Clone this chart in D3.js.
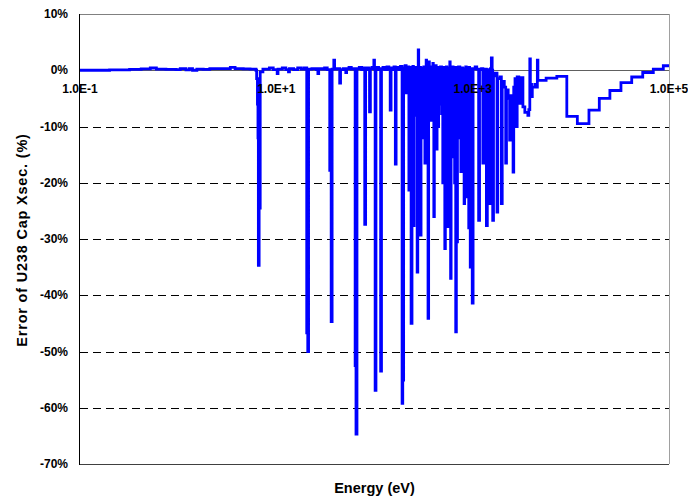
<!DOCTYPE html>
<html>
<head>
<meta charset="utf-8">
<script src="https://cdn.jsdelivr.net/npm/d3@7"></script>
<style>
  body { margin: 0; background: #fff; }
  text { font-family: Arial, "Liberation Sans", sans-serif; font-weight: bold; fill: #000; }
</style>
</head>
<body>
<div id="chart"></div>
<script>
// error of U238 capture xsec, step values [energy eV, error %]
const thermalRange = [
  [0.1, 0], [0.2, 0.05], [0.32, 0.15], [0.42, 0.25], [0.52, 0.4], [0.6, 0.2],
  [0.75, 0.15], [0.95, 0.1], [1.05, 0.3], [1.2, 0.05], [1.3, 0.3], [1.4, 0],
  [1.55, 0.2], [1.8, 0.15], [2.1, 0.3], [3.2, 0.3], [3.4, 0.5], [3.8, 0.3],
  [4.6, 0.25], [5.4, 0.2], [6.2, 0.0]
];

const resolvedLow = [
  [6.3, -1.5], [6.42, -6], [6.5, -12], [6.56, -34.7], [6.68, -24.5], [6.85, -0.3],
  [7.3, 0.2], [8.5, 0.4], [9.3, 0.1], [10.2, -0.6], [10.4, 0.2], [11.5, 0.4],
  [12.5, 0.1], [13.3, -0.3], [13.6, 0.3], [15, 0.1], [16.5, 0.4], [18, 0.2], [19.3, 0.4],
  [20.4, -46.7], [20.9, -50], [21.3, 0.2], [23, 0.3], [25.5, 0.1], [26.5, -0.6],
  [27, 0.3], [29, 0.2], [31, 0.4], [33, 0.1],
  [35.0, -17.8], [36.2, -44.7], [37.0, 0.2], [38.5, 1.8], [39.2, 0.2], [41, 0.3],
  [44.2, -2.3], [45.1, 0.1], [48, 0.3], [51, -0.4], [52, 0.3], [55, 0.5], [58, 0.2], [61, 0.3],
  [63.5, -52.5], [64.8, -64.7], [66.3, 0.3], [70, 0.5], [74, 0.1], [77, 0.4],
  [79.5, -27.4], [81.2, 0.2], [84, 0.4], [87, 0.1], [89, -7.4], [90.8, 0.3],
  [94, 0.5], [98.5, 1.8], [100, 0.2], [101.5, -56.9], [103.5, 0.3], [106, 0.5],
  [110, 0.1], [114, 0.3], [115.5, -53.5], [117.8, 0.2], [122, 0.5], [128, 0.1],
  [134, 0.6], [140, 0.2]
];

const resolvedHigh = [
  [144.5, -7.1], [147.5, 0.4], [154, 0.1], [158, 0.6], [163, -16.7], [166, 0.3],
  [172, 0.5], [178, 0.1], [184, 0.7], [191, -59.2], [194, -55.1], [198, 0.4],
  [205, 0.8], [210, -4], [213, 0.2], [220, 0.6], [224, -21.3], [230, 0.5], [236, -45], [241, 0.3],
  [246, 0.7], [249, -27.6], [253, 0.3], [258, -8], [261, 0.5], [267, 0], [272, -35.9], [276, 0.3],
  [279, 3.6], [282, 0.2], [288, 0.5], [294, -29.3], [298, 0.4], [305, -5.9], [309, 0.2],
  [315, -12], [318, 0.6], [326, -16.5], [330, 0.3], [336, 1.8], [339, 0.3], [342, -6], [345, 0.4],
  [351, -44.1], [356, 0.4], [359, 1.5], [362, 0.3], [370, 0.6], [380, -8.9], [385, 0.4],
  [393, 1.2], [397, 0.3], [402, -26], [407, 0.5], [420, 0.8], [425, 0.2], [430, -14], [434, 0.5],
  [445, -10], [450, 0.4], [460, -6], [464, 0.5], [470, 0.6],
  [482, -7.7], [488, 0.3], [496, -20], [501, 0.5], [520, -31.7], [527, 0.2], [540, 0.6],
  [545, -9], [549, 0.3], [560, -27.8], [568, 0.4], [585, 1.5], [590, 0.3], [596, -37], [603, 0.4],
  [610, -5], [614, 0.6], [632, -15.4], [640, 0.3], [655, -20], [660, 0.5], [672, -46.5], [682, 0.3],
  [692, -30.5], [700, 0.4], [718, 0.6], [740, -12], [748, 0.3], [758, -18], [766, 0.4],
  [790, 0.1], [800, -10], [806, 0.3], [818, -23.7], [828, 0.3], [850, 0.6], [860, -8], [866, 0.4],
  [878, -22.5], [888, 0.2], [912, -28], [920, 0.5], [930, -15], [936, 0.3],
  [945, -35], [960, 0.2], [990, -41.4], [1010, 0.3]
];

const unresolvedSteps = [
  [1060, 0.6], [1100, 0.2], [1150, -26.7], [1175, 0.1], [1230, 0.3], [1270, -16.5],
  [1300, 0.2], [1380, -27.6], [1410, 0.1], [1490, -23.7], [1520, 0.3], [1550, 2.2],
  [1580, 0.0], [1600, -26.7], [1630, -1], [1700, -0.5], [1770, -25.2], [1800, -1.5],
  [1900, -1.2], [1960, -23.7], [2000, -2], [2100, -3], [2170, -16.5], [2210, -3.5],
  [2300, -5], [2380, -12.4], [2430, -4.5], [2500, -6], [2580, -18.1], [2620, -3],
  [2700, -1.5], [2790, -10], [2840, -1.2], [2950, -1.4], [3010, -5.9], [3080, -1.3],
  [3250, -6.5], [3400, -7.5], [3650, -8], [3730, -7], [3820, 2], [3870, -2.5],
  [3980, -4.7], [4050, -3], [4300, -2.5], [4480, -3], [4560, 1.8], [4620, -1.8],
  [5600, -1.4], [7200, -1.1], [9100, -8.2], [11650, -9.5], [15300, -7.1],
  [19500, -5.0], [25000, -3.6], [32400, -2.2], [41700, -1.2], [54000, -0.4],
  [69200, 0.2], [87500, 0.8], [100000, 0.8]
];

const yTicks = [10, 0, -10, -20, -30, -40, -50, -60, -70];
const xTickLabels = [[0.1, "1.0E-1"], [10, "1.0E+1"], [1000, "1.0E+3"], [100000, "1.0E+5"]];

const width = 688;
const height = 497;
const margin = { top: 14, right: 19, bottom: 33, left: 80 };

const svg = d3.select("#chart")
  .append("svg")
  .attr("width", width)
  .attr("height", height);

const xScale = d3.scaleLog()
  .domain([0.1, 100000])
  .range([margin.left, width - margin.right]);

const yScale = d3.scaleLinear()
  .domain([-70, 10])
  .range([height - margin.bottom, margin.top]);

// dashed gridlines
svg.selectAll(".grid")
  .data(yTicks.filter(d => d < 0 && d > -70))
  .enter()
  .append("line")
  .attr("x1", margin.left)
  .attr("x2", width - margin.right)
  .attr("y1", d => Math.round(yScale(d)) + 0.5)
  .attr("y2", d => Math.round(yScale(d)) + 0.5)
  .attr("stroke", "#000")
  .attr("stroke-width", 1)
  .attr("stroke-dasharray", "8,5");

// frame: top, right, bottom
svg.append("line")
  .attr("x1", margin.left).attr("x2", width - margin.right)
  .attr("y1", yScale(10) + 0.5).attr("y2", yScale(10) + 0.5)
  .attr("stroke", "#808080");
svg.append("line")
  .attr("x1", width - margin.right + 0.5).attr("x2", width - margin.right + 0.5)
  .attr("y1", yScale(10)).attr("y2", yScale(-70))
  .attr("stroke", "#a0a0a0");
svg.append("line")
  .attr("x1", margin.left).attr("x2", width - margin.right)
  .attr("y1", Math.round(yScale(-70)) + 0.5).attr("y2", Math.round(yScale(-70)) + 0.5)
  .attr("stroke", "#404040");

// zero line
svg.append("line")
  .attr("x1", margin.left).attr("x2", width - margin.right)
  .attr("y1", Math.round(yScale(0)) + 0.5).attr("y2", Math.round(yScale(0)) + 0.5)
  .attr("stroke", "#606060");

// left axis
svg.append("line")
  .attr("x1", margin.left - 0.5).attr("x2", margin.left - 0.5)
  .attr("y1", yScale(10)).attr("y2", yScale(-70) + 1)
  .attr("stroke", "#000");

const allData = thermalRange.concat(resolvedLow, resolvedHigh, unresolvedSteps);

const lineGenerator = d3.line()
  .x(d => xScale(d[0]))
  .y(d => yScale(d[1]))
  .curve(d3.curveStepAfter);

svg.append("path")
  .datum(allData)
  .attr("fill", "none")
  .attr("stroke", "#0000ff")
  .attr("stroke-width", 2.8)
  .attr("stroke-linejoin", "miter")
  .attr("d", lineGenerator);

// y tick labels
svg.selectAll(".ylab")
  .data(yTicks)
  .enter()
  .append("text")
  .attr("x", 68)
  .attr("y", d => yScale(d))
  .attr("dy", "0.35em")
  .attr("text-anchor", "end")
  .style("font-size", "12px")
  .text(d => d + "%");

// x tick labels sit under the zero line
svg.selectAll(".xlab")
  .data(xTickLabels)
  .enter()
  .append("text")
  .attr("x", d => xScale(d[0]))
  .attr("y", yScale(0) + 19)
  .attr("dy", "0.35em")
  .attr("text-anchor", "middle")
  .style("font-size", "12px")
  .text(d => d[1]);

svg.append("text")
  .attr("x", (margin.left + width - margin.right) / 2)
  .attr("y", 493)
  .attr("text-anchor", "middle")
  .style("font-size", "14.5px")
  .text("Energy (eV)");

svg.append("text")
  .attr("transform", "rotate(-90)")
  .attr("x", -240)
  .attr("y", 27)
  .attr("text-anchor", "middle")
  .style("font-size", "14.5px")
  .style("letter-spacing", "0.8px")
  .text("Error of U238 Cap Xsec. (%)");
</script>
</body>
</html>
